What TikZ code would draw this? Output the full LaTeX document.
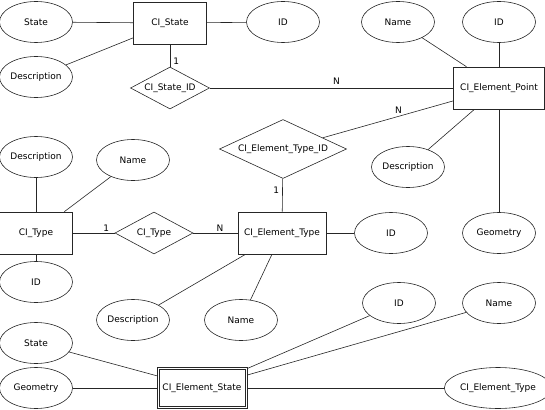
\documentclass[tikz,border=0pt]{standalone}
\usepackage{fontspec}
\setmainfont{DejaVu Sans}
\usepackage{tikz}
\usetikzlibrary{shapes}
\usetikzlibrary{positioning}

\begin{document}
\begin{tikzpicture}[x=1pt,y=-1pt, line width=.6pt, draw=black!85,
  every node/.style={font=\fontsize{9}{10}\selectfont, inner sep=0pt},
  attr/.style={draw, ellipse, minimum width=73pt, minimum height=41pt},
  ent/.style={draw, rectangle, minimum width=73pt, minimum height=42pt},
  rel/.style={draw, diamond, aspect=1.9, minimum width=79pt, minimum height=42pt}]
\useasboundingbox (0,0) rectangle (545,409);
% top row
\node[ent] (cistate) at (170,23) {CI\_State};
\node[attr] (state) at (36,22) {State};
\node[attr] (stateid) at (283,22) {ID};
\node[attr] (statedesc) at (36,77) {Description};
\node[rel] (cistateid) at (170,88) {CI\_State\_ID};
%
\node[ent, minimum width=91pt] (cipoint) at (499,88) {CI\_Element\_Point};
\node[attr] (pointname) at (398,22) {Name};
\node[attr] (pointid) at (499,22) {ID};
\node[attr] (pointdesc) at (408,167) {Description};
\node[attr] (pointgeom) at (499,233) {Geometry};
\node[rel, aspect=2.15, minimum width=127pt, minimum height=59pt] (cietid) at (283,149) {CI\_Element\_Type\_ID};
% middle row
\node[ent] (citype) at (36,233) {CI\_Type};
\node[attr] (typedesc) at (36,157) {Description};
\node[attr] (typename) at (133,160) {Name};
\node[attr] (typeid) at (36,282) {ID};
\node[rel, minimum width=78pt] (citypeid) at (154,233) {CI\_Type};
\node[ent, minimum width=88pt] (cietype) at (282,233) {CI\_Element\_Type};
\node[attr] (etypeid) at (391,233) {ID};
\node[attr] (etypedesc) at (133,320) {Description};
\node[attr] (etypename) at (241,320) {Name};
% bottom row
\node[ent, minimum width=90pt, minimum height=41pt] (cistatus) at (202,388) {CI\_Element\_State};
\draw ([shift={(2.5pt,-2.5pt)}]cistatus.north west) rectangle ([shift={(-2.5pt,2.5pt)}]cistatus.south east);
\node[attr] (esstate) at (36,343) {State};
\node[attr] (esgeom) at (36,388) {Geometry};
\node[attr] (esid) at (399,303) {ID};
\node[attr] (esname) at (499,303) {Name};
\node[attr, minimum width=86pt] (estype) at (498,388) {CI\_Element\_Type};

\draw (state) -- (cistate);
\draw (cistate) -- (stateid);
\draw (statedesc) -- (cistate);
\draw (cistate) -- node[right=3pt, pos=.75]{1} (cistateid);
\draw (cistateid) -- node[above=3pt, pos=.52]{N} (cipoint);
\draw (pointname) -- (cipoint);
\draw (pointid) -- (cipoint);
\draw (cipoint) -- node[above=3pt, pos=.42]{N} (cietid);
\draw (cipoint) -- (pointdesc);
\draw (cipoint) -- (pointgeom);
\draw (cietid) -- node[left=3pt, pos=.35]{1} (cietype);
%
\draw (typedesc) -- (citype);
\draw (typename) -- (citype);
\draw (citype) -- (typeid);
\draw (citype) -- node[above=1pt, pos=.8]{1} (citypeid);
\draw (citypeid) -- node[above=1.5pt, pos=.6]{N} (cietype);
\draw (cietype) -- (etypeid);
\draw (cietype) -- (etypedesc);
\draw (cietype) -- (etypename);
%
\draw (esstate) -- (cistatus);
\draw (esgeom) -- (cistatus);
\draw (cistatus) -- (esid);
\draw (cistatus) -- (esname);
\draw (cistatus) -- (estype);
\end{tikzpicture}
\end{document}
